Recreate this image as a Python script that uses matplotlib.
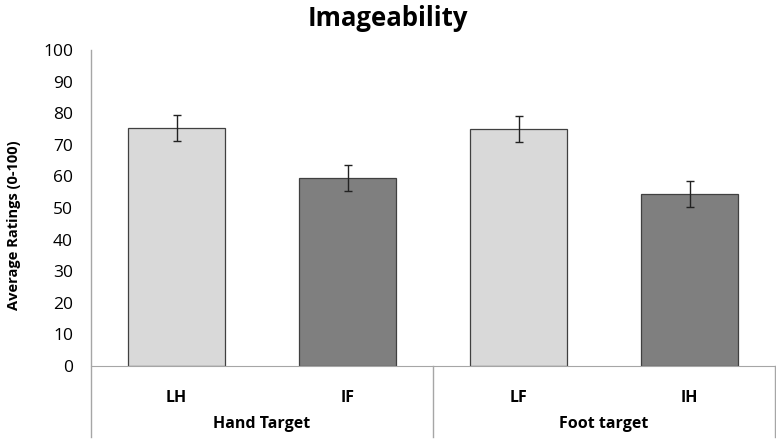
import matplotlib.pyplot as plt
from matplotlib.lines import Line2D

categories = ['LH', 'IF', 'LF', 'IH']
groups = ['Hand Target', 'Foot target']
means = [75.3, 59.5, 75.0, 54.4]
errors = [4.1, 4.2, 4.0, 4.0]
colors = ['#d9d9d9', '#7f7f7f', '#d9d9d9', '#7f7f7f']

plt.rcParams['font.family'] = ['Open Sans', 'DejaVu Sans']

fig = plt.figure(figsize=(7.76, 4.42), dpi=100)
ax = fig.add_axes([91 / 776, 1 - 366 / 442, 1 - 91 / 776 - 0.001, 316 / 442])

xs = list(range(len(categories)))
ax.bar(xs, means, width=0.57, color=colors, edgecolor='#404040', linewidth=0.9,
       yerr=errors, error_kw=dict(ecolor='#222222', elinewidth=1.0, capsize=3, capthick=1.0))

ax.set_xlim(-0.5, len(categories) - 0.5)
ax.set_ylim(0, 100)
ax.set_yticks(range(0, 101, 10))
ax.tick_params(axis='y', length=0, pad=13, labelsize=12.5)
ax.set_xticks([])
for s in ['top', 'right']:
    ax.spines[s].set_visible(False)
ax.spines['left'].set_visible(False)
ax.spines['bottom'].set_color('#a6a6a6')

ax.set_ylabel('Average Ratings (0-100)', fontsize=10.5, fontweight='bold')
ax.yaxis.set_label_coords(-(91 - 21) / 685, (366 - 225) / 316)
fig.text(0.5, 1 - 18 / 442, 'Imageability', ha='center', va='center',
         fontsize=18.5, fontweight='bold')

# category axis box lines
depth = -(437 - 366) / 316
trans = ax.transAxes
for xf in [0, 0.5, 1.0]:
    top = 1.0 if xf == 0 else 0
    ax.add_line(Line2D([xf, xf], [depth, top], transform=trans, color='#a6a6a6',
                       linewidth=1.0, clip_on=False))

for i, c in enumerate(categories):
    ax.text(i, -(398 - 366) / 316 * 100, c, ha='center', va='center',
            fontsize=11.5, fontweight='bold', clip_on=False)
for g, name in enumerate(groups):
    ax.text(0.25 + 0.5 * g, -(424 - 366) / 316, name, transform=trans,
            ha='center', va='center', fontsize=11.5, fontweight='bold', clip_on=False)

fig.savefig('out.png', dpi=100)
